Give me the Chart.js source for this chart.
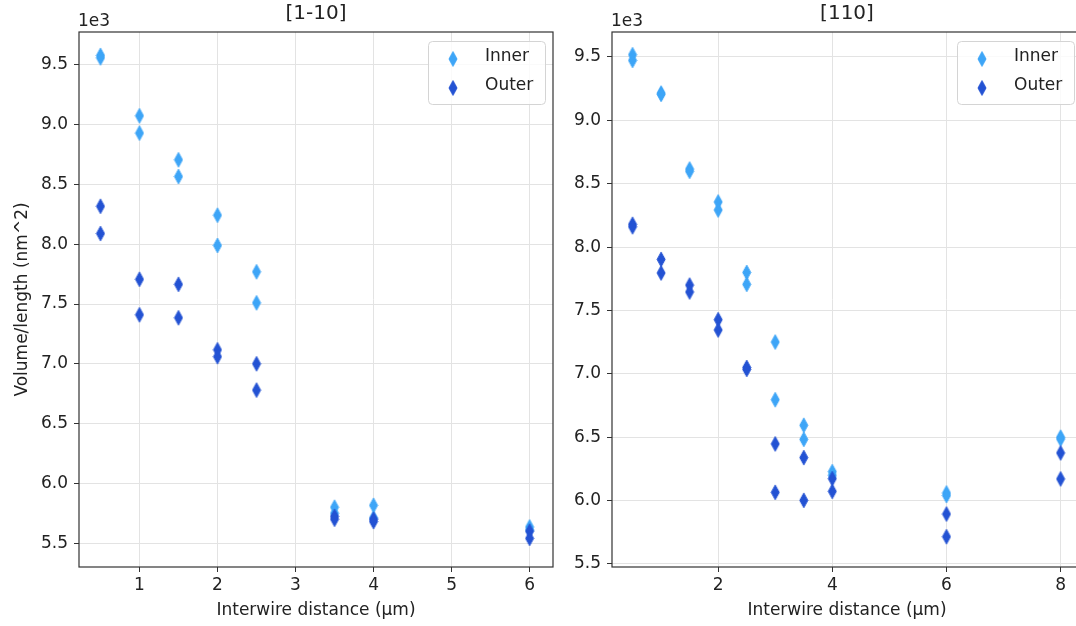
<!DOCTYPE html>
<html>
<head>
<meta charset="utf-8">
<script src="https://cdn.jsdelivr.net/npm/chart.js@4.4.0/dist/chart.umd.min.js"></script>
<style>
  html, body { margin: 0; padding: 0; background: #fff; overflow: hidden; }
  #wrap { position: relative; width: 1076px; height: 626px; overflow: hidden; background: #fff; }
  .panel { position: absolute; top: 0; height: 626px; overflow: hidden; }
  .panel canvas { display: block; }
</style>
</head>
<body>
<div id="wrap">
  <div class="panel" style="left:0;width:560px"><canvas id="leftChart" width="560" height="626"></canvas></div>
  <div class="panel" style="left:540px;width:536px"><canvas id="rightChart" width="560" height="626"></canvas></div>
</div>
<script>
/* Volume/length vs interwire distance, two orientations.
   Values in nm^2, axis shows them in units of 1e3. */

// [1-10] panel
const leftDist  = [0.5, 0.5, 1, 1, 1.5, 1.5, 2, 2, 2.5, 2.5, 3.5, 3.5, 4, 4, 6, 6];
const leftInner = [9580, 9560, 9075, 8930, 8707, 8567, 8243, 7990, 7770, 7510, 5800, 5750, 5816, 5710, 5635, 5610];
const leftOuter = [8318, 8090, 7707, 7410, 7665, 7385, 7117, 7060, 7000, 6780, 5724, 5700, 5700, 5680, 5600, 5540];
const leftXTicks = [1, 2, 3, 4, 5, 6];
const leftYTicks = [5500, 6000, 6500, 7000, 7500, 8000, 8500, 9000, 9500];

// [110] panel
const rightDist  = [0.5, 0.5, 1, 1, 1.5, 1.5, 2, 2, 2.5, 2.5, 3, 3, 3.5, 3.5, 4, 4, 6, 6, 8, 8];
const rightInner = [9518, 9473, 9215, 9205, 8616, 8598, 8356, 8293, 7800, 7706, 7251, 6796, 6594, 6483, 6228, 6200, 6060, 6040, 6500, 6486];
const rightOuter = [8180, 8160, 7903, 7796, 7700, 7646, 7427, 7346, 7050, 7035, 6447, 6065, 6339, 6002, 6173, 6073, 5894, 5715, 6376, 6171];
const rightXTicks = [2, 4, 6, 8];
const rightYTicks = [5500, 6000, 6500, 7000, 7500, 8000, 8500, 9000, 9500];

const seriesNames = ['Inner', 'Outer'];
const INNER_COLOR = '#3da5f7';
const OUTER_COLOR = '#2352d3';
const FONT = "'DejaVu Sans', sans-serif";
const TEXT = '#222';

function makeDiamond(color) {
  const c = document.createElement('canvas');
  c.width = 10;
  c.height = 17;
  const g = c.getContext('2d');
  g.fillStyle = color;
  g.strokeStyle = color;
  g.lineWidth = 1;
  g.beginPath();
  g.moveTo(5, 1.2);
  g.lineTo(9, 8.5);
  g.lineTo(5, 15.8);
  g.lineTo(1, 8.5);
  g.closePath();
  g.fill();
  g.stroke();
  return c;
}
const innerMark = makeDiamond(INNER_COLOR);
const outerMark = makeDiamond(OUTER_COLOR);

function toPoints(xs, ys) {
  return xs.map((x, i) => ({ x: x, y: ys[i] }));
}

// frame, title, offset text and legend drawn straight on the canvas
const panelDecor = {
  id: 'panelDecor',
  afterDraw(chart, args, opts) {
    const ctx = chart.ctx;
    const a = chart.chartArea;
    ctx.save();
    ctx.strokeStyle = '#333';
    ctx.lineWidth = 1.2;
    ctx.strokeRect(a.left, a.top, a.right - a.left, a.bottom - a.top);

    ctx.fillStyle = TEXT;
    ctx.font = '20px ' + FONT;
    ctx.textAlign = 'center';
    ctx.textBaseline = 'middle';
    ctx.fillText(opts.title, (a.left + a.right) / 2, 14);

    ctx.font = '17px ' + FONT;
    ctx.textAlign = 'left';
    ctx.textBaseline = 'alphabetic';
    ctx.fillText('1e3', a.left - 1, 26);

    // legend box
    const w = 117, h = 63;
    const bx = a.right - 8 - w, by = 41;
    ctx.beginPath();
    ctx.roundRect(bx + 0.5, by + 0.5, w, h, 4);
    ctx.fillStyle = 'rgba(255,255,255,0.8)';
    ctx.fill();
    ctx.strokeStyle = '#d4d4d4';
    ctx.lineWidth = 1;
    ctx.stroke();
    const marks = [innerMark, outerMark];
    ctx.font = '17px ' + FONT;
    ctx.fillStyle = TEXT;
    ctx.textBaseline = 'middle';
    seriesNames.forEach((name, i) => {
      const my = by + 18 + i * 29;
      ctx.drawImage(marks[i], bx + 25 - 5, my - 8.5);
      ctx.fillText(name, bx + 57, my - 2);
    });
    ctx.restore();
  }
};

function buildPanel(canvasId, cfg) {
  return new Chart(document.getElementById(canvasId), {
    type: 'scatter',
    data: {
      datasets: [
        {
          label: seriesNames[0],
          data: toPoints(cfg.dist, cfg.inner),
          pointStyle: innerMark,
          backgroundColor: INNER_COLOR,
          borderColor: INNER_COLOR,
          order: 2
        },
        {
          label: seriesNames[1],
          data: toPoints(cfg.dist, cfg.outer),
          pointStyle: outerMark,
          backgroundColor: OUTER_COLOR,
          borderColor: OUTER_COLOR,
          order: 1
        }
      ]
    },
    options: {
      responsive: false,
      animation: false,
      devicePixelRatio: 1,
      layout: { padding: { left: 0, right: cfg.padRight, top: 32, bottom: 0 } },
      plugins: {
        legend: { display: false },
        tooltip: { enabled: false },
        panelDecor: { title: cfg.title }
      },
      scales: {
        x: {
          type: 'linear',
          min: cfg.xMin,
          max: cfg.xMax,
          afterBuildTicks: axis => { axis.ticks = cfg.xTicks.map(v => ({ value: v })); },
          afterFit: axis => { axis.height = 59; },
          grid: { color: '#e3e3e3', lineWidth: 1, tickColor: '#333', tickLength: 5, tickWidth: 1 },
          border: { display: false },
          ticks: { color: TEXT, font: { family: FONT, size: 17 }, padding: 3, maxRotation: 0 },
          title: {
            display: true,
            text: 'Interwire distance (µm)',
            color: TEXT,
            font: { family: FONT, size: 17 },
            padding: { top: 2, bottom: 5 }
          }
        },
        y: {
          type: 'linear',
          min: cfg.yMin,
          max: cfg.yMax,
          afterBuildTicks: axis => { axis.ticks = cfg.yTicks.map(v => ({ value: v })); },
          afterFit: axis => { axis.width = cfg.yWidth; },
          grid: { color: '#e3e3e3', lineWidth: 1, tickColor: '#333', tickLength: 5, tickWidth: 1 },
          border: { display: false },
          ticks: {
            color: TEXT,
            font: { family: FONT, size: 17 },
            padding: 6,
            callback: v => (v / 1000).toFixed(1)
          },
          title: {
            display: cfg.yTitle !== '',
            text: cfg.yTitle,
            color: TEXT,
            font: { family: FONT, size: 17 },
            padding: { top: 12, bottom: 0 }
          }
        }
      }
    },
    plugins: [panelDecor]
  });
}

buildPanel('leftChart', {
  title: '[1-10]',
  dist: leftDist, inner: leftInner, outer: leftOuter,
  xTicks: leftXTicks, yTicks: leftYTicks,
  xMin: 0.225, xMax: 6.3, yMin: 5300, yMax: 9776,
  yWidth: 79, padRight: 7,
  yTitle: 'Volume/length (nm^2)'
});

buildPanel('rightChart', {
  title: '[110]',
  dist: rightDist, inner: rightInner, outer: rightOuter,
  xTicks: rightXTicks, yTicks: rightYTicks,
  xMin: 0.14, xMax: 8.375, yMin: 5476, yMax: 9697,
  yWidth: 72, padRight: 18,
  yTitle: ''
});
</script>
</body>
</html>
